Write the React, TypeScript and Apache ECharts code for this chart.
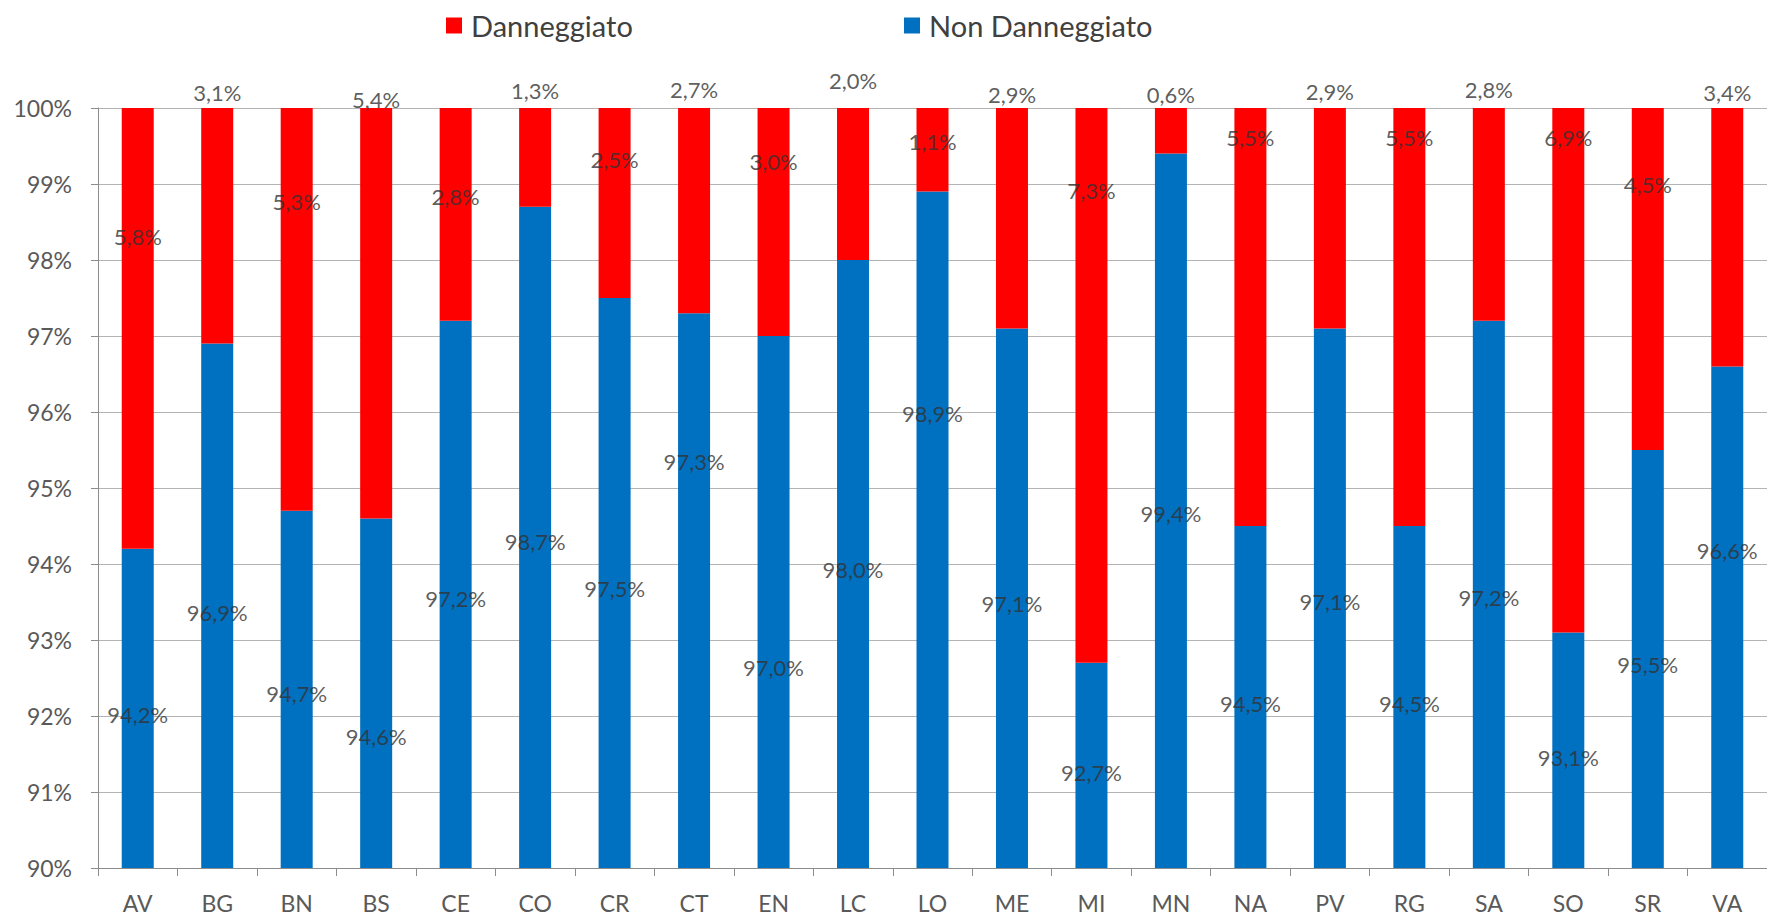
import React, { useEffect, useRef } from "react";
import * as echarts from "echarts";

const categories = ["AV", "BG", "BN", "BS", "CE", "CO", "CR", "CT", "EN", "LC", "LO", "ME", "MI", "MN", "NA", "PV", "RG", "SA", "SO", "SR", "VA"];
const nonDanneggiato = [94.2, 96.9, 94.7, 94.6, 97.2, 98.7, 97.5, 97.3, 97.0, 98.0, 98.9, 97.1, 92.7, 99.4, 94.5, 97.1, 94.5, 97.2, 93.1, 95.5, 96.6];
const danneggiato = [5.8, 3.1, 5.3, 5.4, 2.8, 1.3, 2.5, 2.7, 3.0, 2.0, 1.1, 2.9, 7.3, 0.6, 5.5, 2.9, 5.5, 2.8, 6.9, 4.5, 3.4];
// where each data label sits on the value axis
const redLabelAt = [98.31, 100.2, 98.77, 100.11, 98.83, 100.23, 99.32, 100.25, 99.29, 100.36, 99.56, 100.18, 98.92, 100.18, 99.61, 100.22, 99.61, 100.24, 99.61, 99.0, 100.2];
const blueLabelAt = [92.02, 93.36, 92.29, 91.73, 93.54, 94.3, 93.68, 95.35, 92.64, 93.93, 95.98, 93.48, 91.26, 94.66, 92.16, 93.51, 92.16, 93.56, 91.46, 92.68, 94.18];
const yTicks = { min: 90, max: 100, interval: 1 };

const fmt = (v: number) => v.toFixed(1).replace(".", ",") + "%";

export default function App() {
  const ref = useRef<HTMLDivElement>(null);
  useEffect(() => {
    if (!ref.current) return;
    const chart = echarts.init(ref.current, null, { renderer: "svg" });
    const font = "Lato, 'DejaVu Sans', sans-serif";
    const labelStyle = {
      show: true,
      position: "inside" as const,
      fontFamily: font,
      fontSize: 22,
      color: "#333333",
    };
    const legendText = { fontFamily: font, fontSize: 29, color: "#404040", padding: [0, 0, 0, 4] };
    chart.setOption({
      animation: false,
      backgroundColor: "#ffffff",
      legend: [
        {
          data: ["Danneggiato"],
          left: 441,
          top: 6,
          icon: "rect",
          itemWidth: 16,
          itemHeight: 16,
          textStyle: legendText,
        },
        {
          data: ["Non Danneggiato"],
          left: 899,
          top: 6,
          icon: "rect",
          itemWidth: 16,
          itemHeight: 16,
          textStyle: legendText,
        },
      ],
      grid: { left: 98, top: 108, width: 1684, height: 760, containLabel: false },
      xAxis: {
        type: "category",
        data: categories,
        axisLine: { lineStyle: { color: "#8c8c8c", width: 1 } },
        axisTick: { show: true, length: 8, lineStyle: { color: "#8c8c8c" } },
        axisLabel: { fontFamily: font, fontSize: 23, color: "#595959", margin: 23 },
      },
      yAxis: {
        type: "value",
        min: yTicks.min,
        max: yTicks.max,
        interval: yTicks.interval,
        axisLine: { show: true, lineStyle: { color: "#8c8c8c", width: 1 } },
        axisTick: { show: true, length: 7, lineStyle: { color: "#8c8c8c" } },
        axisLabel: { fontFamily: font, fontSize: 23, color: "#595959", margin: 26, formatter: "{value}%" },
        splitLine: { show: true, lineStyle: { color: "#b4b4b4", width: 1 } },
      },
      series: [
        {
          name: "Non Danneggiato",
          type: "bar",
          stack: "tot",
          barWidth: 32,
          data: nonDanneggiato,
          itemStyle: { color: "#0070C0" },
        },
        {
          name: "Danneggiato",
          type: "bar",
          stack: "tot",
          barWidth: 32,
          data: danneggiato,
          itemStyle: { color: "#FF0000" },
        },
        {
          name: "lblBlue",
          type: "scatter",
          symbolSize: 0,
          clip: false,
          silent: true,
          z: 5,
          data: blueLabelAt.map((y, i) => [i, y]),
          label: { ...labelStyle, formatter: (p: any) => fmt(nonDanneggiato[p.dataIndex]) },
        },
        {
          name: "lblRed",
          type: "scatter",
          symbolSize: 0,
          clip: false,
          silent: true,
          z: 5,
          data: redLabelAt.map((y, i) => [i, y]),
          label: { ...labelStyle, formatter: (p: any) => fmt(danneggiato[p.dataIndex]) },
        },
      ],
    });
    return () => chart.dispose();
  }, []);
  return (
    <div
      ref={ref}
      style={{ position: "absolute", left: 0, top: 0, width: 1767, height: 915, background: "#fff" }}
    />
  );
}
